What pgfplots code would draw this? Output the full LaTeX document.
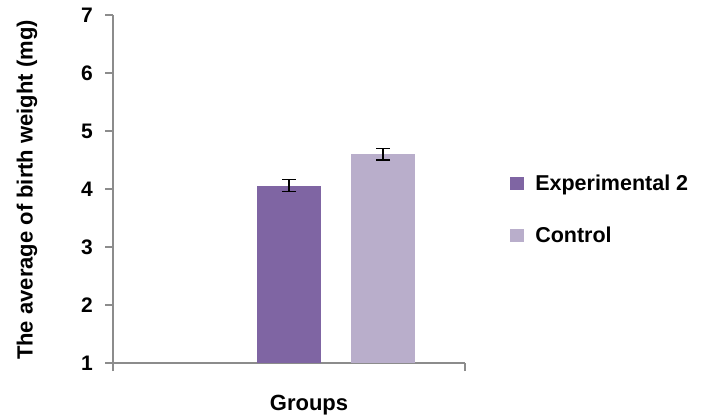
\documentclass[border=0pt]{standalone}
\usepackage{pgfplots}
\pgfplotsset{compat=1.18}
\usepackage{fontspec}
\setmainfont{Liberation Sans}
\definecolor{expc}{HTML}{7F65A3}
\definecolor{ctrc}{HTML}{B9AECB}
\definecolor{axc}{HTML}{8C8C8C}
\begin{document}
\begin{tikzpicture}[x=1pt,y=1pt]
\path[use as bounding box] (0,0) rectangle (708,417);
\begin{axis}[
  at={(113pt,54pt)}, anchor=south west,
  scale only axis, width=352pt, height=348pt,
  xmin=0.5, xmax=1.5, ymin=1, ymax=7,
  axis x line*=bottom, axis y line*=left,
  axis line style={axc, line width=1.2pt},
  every tick/.style={axc, line width=1.2pt},
  tick align=outside, major tick length=8pt,
  xtick={0.5,1.5}, xticklabels={},
  ytick={1,2,3,4,5,6,7},
  yticklabel style={font=\bfseries\fontsize{21}{21}\selectfont, xshift=-12pt, inner sep=0pt},
  /pgf/number format/assume math mode=true,
  ybar, bar width=63.5pt,
  clip=false,
  legend cell align=left,
  legend style={at={(1.128,0.54)}, anchor=north west, draw=none, fill=none,
    font=\bfseries\fontsize{21.5}{21.5}\selectfont, row sep=35pt, inner sep=0pt,
    nodes={inner sep=0pt},
    /tikz/every odd column/.append style={column sep=11pt}},
  legend image code/.code={\fill[#1] (0pt,-6.5pt) rectangle (14pt,6.5pt);},
]
\addplot[fill=expc, draw=none, bar shift=0pt,
  error bars/.cd, y dir=both, y explicit,
  error bar style={black, line width=1.5pt}, error mark options={rotate=90, mark size=7pt, line width=1.5pt, black}]
  coordinates {(1,4.06) +- (0,0.10)};
\addplot[fill=ctrc, draw=none, bar shift=94pt,
  error bars/.cd, y dir=both, y explicit,
  error bar style={black, line width=1.5pt}, error mark options={rotate=90, mark size=7pt, line width=1.5pt, black}]
  coordinates {(1,4.60) +- (0,0.10)};
\legend{Experimental 2, Control}
\end{axis}
\node[rotate=90, font=\bfseries\fontsize{22}{22}\selectfont] at (27,227) {The average of birth weight (mg)};
\node[font=\bfseries\fontsize{22}{22}\selectfont, anchor=base] at (309,7) {Groups};
\end{tikzpicture}
\end{document}
